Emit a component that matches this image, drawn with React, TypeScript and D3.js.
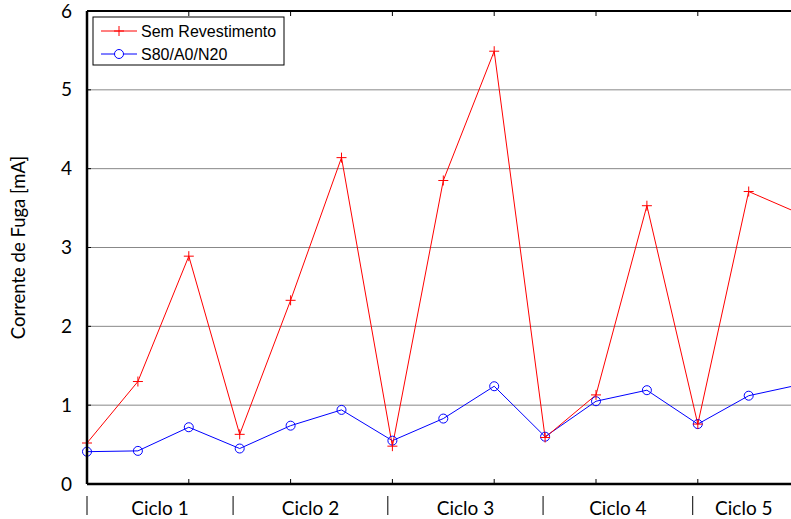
import React from "react";
import * as d3 from "d3";

const semRevestimento = [0.52, 1.3, 2.89, 0.63, 2.33, 4.14, 0.48, 3.85, 5.49, 0.59, 1.13, 3.53, 0.76, 3.71, 3.43];
const s80 = [0.41, 0.42, 0.72, 0.45, 0.74, 0.94, 0.55, 0.83, 1.24, 0.6, 1.05, 1.19, 0.76, 1.12, 1.26];
const yTicks = [0, 1, 2, 3, 4, 5, 6];
const cycleLabels = ["Ciclo 1", "Ciclo 2", "Ciclo 3", "Ciclo 4", "Ciclo 5"];
const cycleBounds = [0, 2.87, 5.91, 8.96, 11.9, 15.3];
const seriesNames = ["Sem Revestimento", "S80/A0/N20"];

const W = 791;
const H = 519;
const left = 87;
const top = 11;
const bottom = 484;
const step = 50.9;

export default function App() {
  const x = d3.scaleLinear().domain([0, 1]).range([left, left + step]);
  const y = d3.scaleLinear().domain([0, 6]).range([bottom, top]);
  const line = d3
    .line<number>()
    .x((_, i) => x(i))
    .y((d) => y(d));
  const xTickIdx = d3.range(2, 16, 2);
  return (
    <svg
      width={W}
      height={H}
      style={{ position: "fixed", left: 0, top: 0, background: "#fff" }}
    >
      {/* grid */}
      {yTicks.slice(1, 6).map((t) => (
        <line key={t} x1={left} x2={W} y1={y(t)} y2={y(t)} stroke="#888" strokeWidth={1} />
      ))}
      {/* y ticks */}
      {yTicks.map((t) => (
        <g key={"yt" + t}>
          <line x1={left} x2={left + 4} y1={y(t)} y2={y(t)} stroke="#000" />
          <text
            x={72}
            y={y(t)}
            dy="0.35em"
            textAnchor="end"
            fontFamily="Lato"
            fontSize={19}
            fill="#000"
          >
            {t}
          </text>
        </g>
      ))}
      {/* x ticks bottom/top */}
      {xTickIdx.map((i) => (
        <g key={"xt" + i}>
          <line x1={x(i)} x2={x(i)} y1={bottom} y2={bottom - 5} stroke="#000" />
          <line x1={x(i)} x2={x(i)} y1={top} y2={top + 5} stroke="#000" />
        </g>
      ))}
      {/* series */}
      <path d={line(s80) || ""} fill="none" stroke="#0000ff" strokeWidth={1} />
      <path d={line(semRevestimento) || ""} fill="none" stroke="#ff0000" strokeWidth={1} />
      {s80.map((v, i) => (
        <circle key={"c" + i} cx={x(i)} cy={y(v)} r={4.5} fill="none" stroke="#0000ff" strokeWidth={1} />
      ))}
      {semRevestimento.map((v, i) => (
        <path
          key={"p" + i}
          d={`M${x(i) - 5},${y(v)}H${x(i) + 5}M${x(i)},${y(v) - 5}V${y(v) + 5}`}
          stroke="#ff0000"
          strokeWidth={1}
        />
      ))}
      {/* axes frame */}
      <line x1={left} x2={W} y1={top} y2={top} stroke="#000" strokeWidth={2} />
      <line x1={left} x2={W} y1={bottom} y2={bottom} stroke="#000" strokeWidth={2.5} />
      <line x1={left} x2={left} y1={top} y2={bottom} stroke="#000" strokeWidth={2.5} />
      {/* cycle separators and labels */}
      {cycleBounds.slice(0, 5).map((b, i) => (
        <line key={"sep" + i} x1={x(b)} x2={x(b)} y1={496} y2={515} stroke="#000" strokeWidth={1} />
      ))}
      {cycleLabels.map((lab, i) => {
        const a = x(cycleBounds[i]);
        const b = i === 4 ? 795 : x(cycleBounds[i + 1]);
        return (
          <text
            key={lab}
            x={(a + b) / 2}
            y={515}
            textAnchor="middle"
            fontFamily="Lato"
            fontSize={19}
            fill="#000"
          >
            {lab}
          </text>
        );
      })}
      {/* y title */}
      <text
        transform={`translate(25,${(top + bottom) / 2}) rotate(-90)`}
        textAnchor="middle"
        fontFamily="Lato"
        fontSize={18.5}
        fill="#000"
      >
        Corrente de Fuga [mA]
      </text>
      {/* legend */}
      <g>
        <rect x={93} y={17} width={191} height={48} fill="#fff" stroke="#000" strokeWidth={1} />
        <line x1={101} x2={137} y1={31} y2={31} stroke="#ff0000" />
        <path d="M114,31H124M119,26V36" stroke="#ff0000" />
        <text x={141} y={31} dy="0.35em" fontFamily="Liberation Sans" fontSize={16} fill="#000">
          {seriesNames[0]}
        </text>
        <line x1={101} x2={137} y1={54} y2={54} stroke="#0000ff" />
        <circle cx={119} cy={54} r={4.5} fill="#fff" stroke="#0000ff" />
        <text x={141} y={54} dy="0.35em" fontFamily="Liberation Sans" fontSize={16} fill="#000">
          {seriesNames[1]}
        </text>
      </g>
    </svg>
  );
}
